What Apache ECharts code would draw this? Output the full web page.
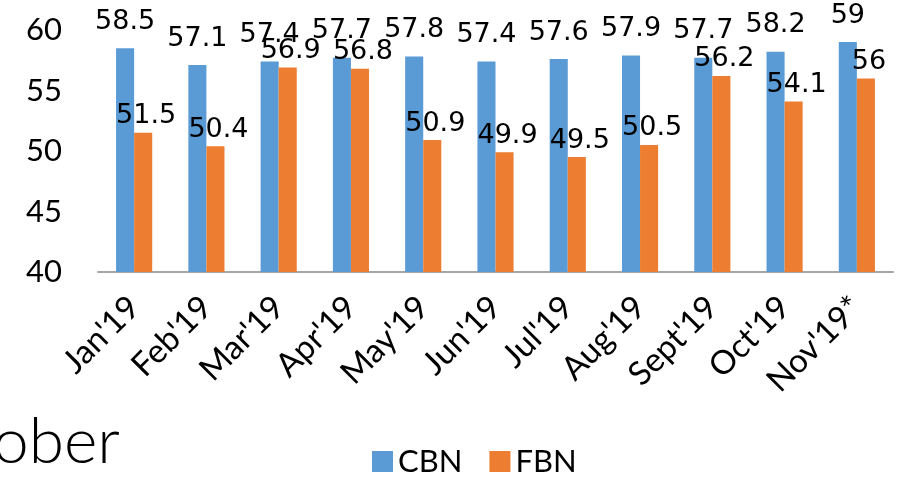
<!DOCTYPE html>
<html>
<head>
<meta charset="UTF-8">
<title>CBN FBN</title>
<script src="https://cdn.jsdelivr.net/npm/echarts@6/dist/echarts.min.js"></script>
<style>
  html, body { margin: 0; padding: 0; background: #fff; }
</style>
</head>
<body>
<div id="main" style="width:900px;height:479px;"></div>
<script type="text/javascript">
    // data
    var months = ["Jan'19", "Feb'19", "Mar'19", "Apr'19", "May'19", "Jun'19", "Jul'19", "Aug'19", "Sept'19", "Oct'19", "Nov'19*"];
    var cbn = [58.5, 57.1, 57.4, 57.7, 57.8, 57.4, 57.6, 57.9, 57.7, 58.2, 59];
    var fbn = [51.5, 50.4, 56.9, 56.8, 50.9, 49.9, 49.5, 50.5, 56.2, 54.1, 56];
    var seriesNames = ['CBN', 'FBN'];

    var myChart = echarts.init(document.getElementById('main'));
    myChart.setOption({
        animation: false,
        grid: { left: 98, right: 7, top: 30, bottom: 207 },
        legend: {
            data: seriesNames,
            bottom: -3,
            left: 367,
            itemWidth: 21,
            itemHeight: 21,
            itemGap: 27,
            icon: 'rect',
            textStyle: { fontFamily: 'Lato', fontSize: 31, color: '#000' }
        },
        graphic: [{
            type: 'text',
            left: -7,
            top: 410,
            style: { text: 'ober', font: '300 64px "Lato"', fill: '#000' }
        }],
        xAxis: {
            type: 'category',
            data: months,
            axisTick: { show: false },
            axisLine: { lineStyle: { color: '#A6A6A6', width: 2 } },
            axisLabel: {
                rotate: 45,
                interval: 0,
                margin: 30,
                fontFamily: 'Lato',
                fontSize: 33,
                color: '#000'
            }
        },
        yAxis: {
            type: 'value',
            min: 40,
            max: 60,
            interval: 5,
            splitLine: { show: false },
            axisLine: { show: false },
            axisTick: { show: false },
            axisLabel: {
                margin: 36,
                fontFamily: 'Lato',
                fontSize: 31,
                color: '#000'
            }
        },
        series: [
            {
                name: 'CBN',
                type: 'bar',
                data: cbn,
                barGap: '0%',
                barCategoryGap: '50%',
                itemStyle: { color: '#5B9BD5' },
                label: {
                    show: true,
                    position: 'top',
                    distance: 13,
                    fontFamily: 'DejaVu Sans',
                    fontSize: 27,
                    color: '#000'
                }
            },
            {
                name: 'FBN',
                type: 'bar',
                data: fbn,
                itemStyle: { color: '#ED7D31' },
                label: {
                    show: true,
                    position: 'top',
                    distance: 3,
                    offset: [3, 0],
                    fontFamily: 'DejaVu Sans',
                    fontSize: 27,
                    color: '#000'
                }
            }
        ]
    });
</script>
</body>
</html>
